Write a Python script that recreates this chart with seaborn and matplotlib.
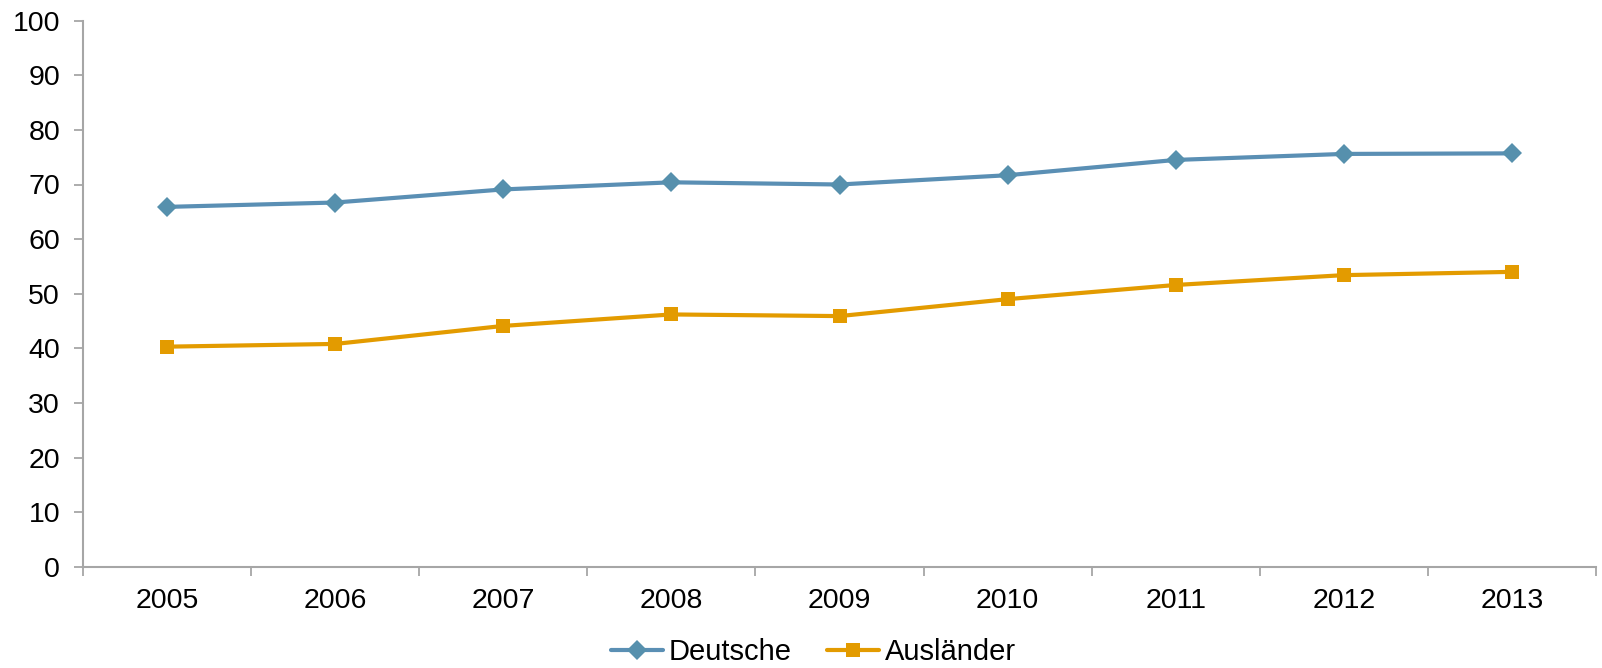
import matplotlib
matplotlib.use("Agg")
import matplotlib.pyplot as plt
import seaborn as sns
import pandas as pd
import numpy as np

years = ["2005", "2006", "2007", "2008", "2009", "2010", "2011", "2012", "2013"]
deutsche = [65.9, 66.7, 69.1, 70.4, 70.0, 71.7, 74.5, 75.6, 75.7]
auslaender = [40.3, 40.8, 44.1, 46.2, 45.9, 49.0, 51.6, 53.4, 54.0]
y_ticks = [0, 10, 20, 30, 40, 50, 60, 70, 80, 90, 100]

sns.set_theme(style="white")
plt.rcParams['font.family'] = ['Liberation Sans', 'DejaVu Sans']

blue = "#5A8FB4"
blue_marker = "#5690AD"
orange = "#E39B00"
axis_grey = "#A6A6A6"

pos = np.arange(len(years))
df_d = pd.DataFrame({"pos": pos, "value": deutsche})
df_a = pd.DataFrame({"pos": pos, "value": auslaender})

fig = plt.figure(figsize=(16.02, 6.68), dpi=100)
ax = fig.add_axes([83/1602, 1 - 566.7/668, (1596 - 83)/1602, (566.7 - 20.7)/668])

sns.lineplot(data=df_d, x="pos", y="value", ax=ax, color=blue, linewidth=3.0,
             marker="D", markersize=10.5, markerfacecolor=blue_marker,
             markeredgewidth=0, label="Deutsche")
sns.lineplot(data=df_a, x="pos", y="value", ax=ax, color=orange, linewidth=3.0,
             marker="s", markersize=10.5, markerfacecolor=orange,
             markeredgewidth=0, label="Ausländer")

ax.set_xlim(-0.5, len(years) - 0.5)
ax.set_ylim(0, 100)
ax.set_xlabel("")
ax.set_ylabel("")

ax.set_yticks(y_ticks)
ax.set_yticklabels([str(v) for v in y_ticks])
ax.set_xticks(pos)
ax.set_xticklabels(years)
ax.set_xticks(np.arange(-0.5, len(years)), minor=True)

ax.tick_params(axis="y", which="major", length=6.5, width=1.3, color=axis_grey,
               labelsize=20.5, pad=10, left=True, labelcolor="black")
ax.tick_params(axis="x", which="major", length=0, labelsize=20.5, pad=15,
               labelcolor="black")
ax.tick_params(axis="x", which="minor", length=6.5, width=1.3, color=axis_grey,
               bottom=True)

for s in ["top", "right"]:
    ax.spines[s].set_visible(False)
for s in ["left", "bottom"]:
    ax.spines[s].set_color(axis_grey)
    ax.spines[s].set_linewidth(1.5)

ax.grid(False)
leg = ax.legend(loc="center", bbox_to_anchor=(0.5078, 0.024),
                bbox_transform=fig.transFigure, ncol=2, frameon=False,
                fontsize=21, handlelength=1.8, handletextpad=0.2,
                columnspacing=1.2, borderpad=0)
for t in leg.get_texts():
    t.set_color("black")

fig.savefig("out.png", dpi=100)
